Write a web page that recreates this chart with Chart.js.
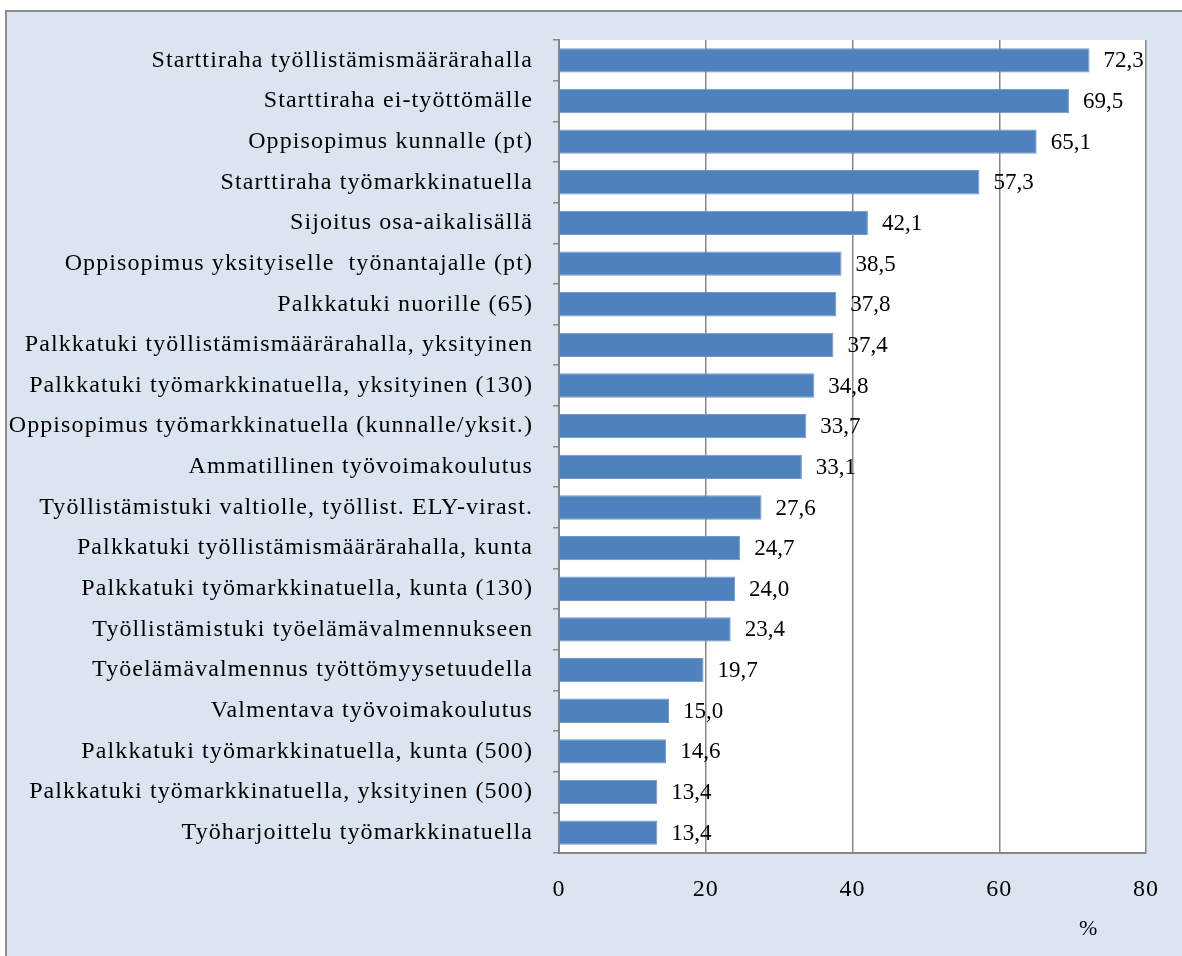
<!DOCTYPE html>
<html>
<head>
<meta charset="utf-8">
<script src="https://cdn.jsdelivr.net/npm/chart.js@4.4.1/dist/chart.umd.min.js"></script>
<style>
    html, body { margin: 0; padding: 0; background: #fff; overflow: hidden; }
    #frame {
        position: absolute; left: 5px; top: 10px; width: 1200px; height: 1000px;
        background: #dbe5f1; border-left: 2px solid #8e8e8e; border-top: 2px solid #8e8e8e;
    }
    #wrap { position: absolute; left: 0; top: 0; width: 1182px; height: 956px; }
    #unit {
        position: absolute; left: 1079px; top: 915px;
        font-family: "Liberation Serif", "Times New Roman", serif; font-size: 22px; color: #000;
    }
</style>
</head>
<body>
<div id="frame"></div>
<div id="wrap"><canvas id="chart" width="1182" height="956"></canvas></div>
<div id="unit">%</div>
<script>
"use strict";

const categories = [
    'Starttiraha työllistämismäärärahalla',
    'Starttiraha ei-työttömälle',
    'Oppisopimus kunnalle (pt)',
    'Starttiraha työmarkkinatuella',
    'Sijoitus osa-aikalisällä',
    'Oppisopimus yksityiselle  työnantajalle (pt)',
    'Palkkatuki nuorille (65)',
    'Palkkatuki työllistämismäärärahalla, yksityinen',
    'Palkkatuki työmarkkinatuella, yksityinen (130)',
    'Oppisopimus työmarkkinatuella (kunnalle/yksit.)',
    'Ammatillinen työvoimakoulutus',
    'Työllistämistuki valtiolle, työllist. ELY-virast.',
    'Palkkatuki työllistämismäärärahalla, kunta',
    'Palkkatuki työmarkkinatuella, kunta (130)',
    'Työllistämistuki työelämävalmennukseen',
    'Työelämävalmennus työttömyysetuudella',
    'Valmentava työvoimakoulutus',
    'Palkkatuki työmarkkinatuella, kunta (500)',
    'Palkkatuki työmarkkinatuella, yksityinen (500)',
    'Työharjoittelu työmarkkinatuella'
];
const shares = [72.3, 69.5, 65.1, 57.3, 42.1, 38.5, 37.8, 37.4, 34.8, 33.7,
    33.1, 27.6, 24.7, 24.0, 23.4, 19.7, 15.0, 14.6, 13.4, 13.4];
const xTicks = [0, 20, 40, 60, 80];

const FONT = '"Liberation Serif", "Times New Roman", serif';

// white plot area on the blue frame
const plotBackground = {
    id: 'plotBackground',
    beforeDraw(chart) {
        const a = chart.chartArea;
        const ctx = chart.ctx;
        ctx.save();
        ctx.fillStyle = '#fff';
        ctx.fillRect(a.left, a.top, a.right - a.left, a.bottom - a.top);
        ctx.restore();
        // the category text in the original is spaced out a little
        ctx.letterSpacing = '1.1px';
    }
};

// value labels to the right of each bar, Finnish decimal comma
const valueLabels = {
    id: 'valueLabels',
    afterDatasetsDraw(chart) {
        const ctx = chart.ctx;
        const meta = chart.getDatasetMeta(0);
        ctx.save();
        ctx.letterSpacing = '0px';
        ctx.font = '23px ' + FONT;
        ctx.fillStyle = '#000';
        ctx.textAlign = 'left';
        ctx.textBaseline = 'middle';
        meta.data.forEach((bar, i) => {
            const txt = shares[i].toFixed(1).replace('.', ',');
            ctx.fillText(txt, bar.x + 14, bar.y + 1);
        });
        ctx.restore();
    }
};

new Chart(document.getElementById('chart'), {
    type: 'bar',
    data: {
        labels: categories,
        datasets: [{
            data: shares,
            backgroundColor: '#4f81bd',
            borderColor: '#6d97cc',
            borderWidth: 1,
            borderSkipped: 'left',
            barPercentage: 0.6,
            categoryPercentage: 1
        }]
    },
    options: {
        indexAxis: 'y',
        responsive: false,
        animation: false,
        devicePixelRatio: 1,
        layout: { padding: { top: 40, right: 36, left: 0, bottom: 0 } },
        plugins: {
            legend: { display: false },
            tooltip: { enabled: false }
        },
        scales: {
            x: {
                min: 0,
                max: 80,
                afterBuildTicks: (scale) => {
                    scale.ticks = xTicks.map(v => ({value: v}));
                },
                afterFit: (scale) => { scale.height = 103; },
                grid: {
                    color: '#868686',
                    lineWidth: 1.5,
                    drawTicks: false
                },
                border: { color: '#868686', width: 2 },
                ticks: {
                    padding: 22,
                    color: '#000',
                    font: { family: FONT, size: 24 }
                }
            },
            y: {
                afterFit: (scale) => { scale.width = 559; },
                grid: {
                    offset: true,
                    drawOnChartArea: false,
                    drawTicks: true,
                    tickLength: 6,
                    color: '#868686',
                    lineWidth: 1.5
                },
                border: { color: '#868686', width: 2 },
                ticks: {
                    padding: 20,
                    color: '#000',
                    autoSkip: false,
                    font: { family: FONT, size: 24 }
                }
            }
        }
    },
    plugins: [plotBackground, valueLabels]
});
</script>
</body>
</html>
